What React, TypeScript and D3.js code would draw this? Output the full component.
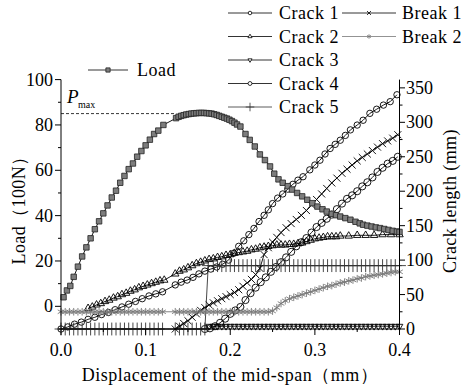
import React from "react";
import * as d3 from "d3";

// displacement (mm) vs load (100N)
const load: number[][] = [
  [0.003, 4], [0.007, 7], [0.011, 9], [0.015, 13], [0.02, 17.5], [0.025, 22], [0.03, 26], [0.035, 30],
  [0.04, 34], [0.045, 37.5], [0.05, 41], [0.055, 44.5], [0.06, 48], [0.065, 51], [0.07, 54.5], [0.075, 57.5],
  [0.08, 60.5], [0.085, 63], [0.09, 66], [0.095, 68.5], [0.1, 71], [0.105, 73.5], [0.11, 76], [0.115, 77.5],
  [0.121, 80], [0.136, 83], [0.139, 83.6], [0.142, 84], [0.145, 84.3], [0.148, 84.6], [0.151, 84.8], [0.154, 85],
  [0.157, 85.1], [0.16, 85.2], [0.163, 85.3], [0.166, 85.3], [0.169, 85.3], [0.172, 85.2], [0.175, 85.1],
  [0.178, 85], [0.181, 84.7], [0.184, 84.4], [0.187, 84], [0.19, 83.6], [0.193, 83.2], [0.196, 82.8],
  [0.199, 82.3], [0.202, 81.7], [0.205, 81], [0.208, 80.2], [0.212, 79.3], [0.218, 76], [0.223, 73.4],
  [0.229, 70.5], [0.235, 67], [0.241, 64.5], [0.247, 61.7], [0.252, 58.5], [0.257, 56], [0.262, 54.5],
  [0.268, 53], [0.273, 51.5], [0.279, 50], [0.285, 48.5], [0.291, 47], [0.297, 45.5], [0.303, 44],
  [0.309, 42.8], [0.314, 41.8], [0.32, 40.8], [0.325, 40.2], [0.33, 39.6], [0.336, 38.9], [0.342, 38.2],
  [0.348, 37.3], [0.353, 36.6], [0.357, 36], [0.362, 35.6], [0.367, 35.2], [0.372, 34.8], [0.377, 34.5],
  [0.382, 34.1], [0.387, 33.7], [0.392, 33.3], [0.397, 33], [0.4, 32.8],
];

// crack lengths (mm)
const crack1: number[][] = [
  [0, 0], [0.008, 3], [0.016, 7], [0.024, 10], [0.032, 14], [0.04, 17], [0.048, 21], [0.056, 24], [0.064, 28],
  [0.072, 32], [0.08, 36], [0.088, 40], [0.096, 44], [0.104, 48], [0.112, 51], [0.12, 54], [0.135, 64],
  [0.142, 68], [0.149, 71], [0.156, 75], [0.163, 80], [0.17, 84], [0.177, 87], [0.184, 90], [0.191, 94],
  [0.198, 100], [0.204, 110], [0.21, 120], [0.216, 128], [0.222, 137], [0.228, 146], [0.234, 156],
  [0.24, 165], [0.245, 173], [0.25, 182], [0.256, 190], [0.262, 196], [0.268, 203], [0.274, 210],
  [0.28, 216], [0.286, 221], [0.294, 231], [0.3, 238], [0.306, 245], [0.312, 254], [0.318, 262],
  [0.324, 268], [0.33, 274], [0.336, 281], [0.342, 289], [0.35, 296], [0.357, 303], [0.365, 313],
  [0.373, 319], [0.381, 325], [0.389, 330], [0.397, 340],
];

const crack2: number[][] = [
  [0.032, 30], [0.037, 32], [0.042, 35], [0.047, 37], [0.052, 40], [0.057, 42], [0.062, 45], [0.067, 47],
  [0.072, 50], [0.077, 52], [0.082, 55], [0.087, 57], [0.092, 60], [0.097, 62], [0.102, 64], [0.107, 66],
  [0.112, 68], [0.117, 70], [0.122, 71], [0.135, 80], [0.14, 84], [0.145, 86], [0.15, 89], [0.155, 92],
  [0.16, 95], [0.165, 97], [0.17, 99], [0.175, 101], [0.18, 102], [0.185, 104], [0.19, 105], [0.195, 107],
  [0.2, 108], [0.205, 110], [0.21, 111], [0.215, 112], [0.22, 113], [0.225, 115], [0.23, 116], [0.235, 118],
  [0.24, 119], [0.245, 120], [0.25, 121], [0.255, 122], [0.26, 122], [0.265, 122], [0.27, 123], [0.275, 123],
  [0.28, 124], [0.285, 125], [0.29, 127], [0.295, 129], [0.3, 131], [0.305, 132], [0.31, 133], [0.315, 134],
  [0.32, 134], [0.325, 134], [0.33, 135], [0.34, 135], [0.35, 136], [0.36, 136], [0.37, 136], [0.38, 137],
  [0.39, 137], [0.4, 137],
];

const crack3: number[][] = [
  [0.175, 4], [0.18, 4], [0.185, 4], [0.19, 4], [0.195, 4], [0.2, 4], [0.205, 4], [0.21, 4], [0.215, 4],
  [0.22, 4], [0.225, 4], [0.23, 4], [0.235, 4], [0.24, 4], [0.245, 4], [0.25, 4], [0.255, 4], [0.26, 4],
  [0.265, 4], [0.27, 4], [0.275, 4], [0.28, 4], [0.285, 4], [0.29, 4], [0.295, 4], [0.3, 4], [0.305, 4],
  [0.31, 4], [0.315, 4], [0.32, 4], [0.325, 4], [0.33, 4], [0.335, 4], [0.34, 4], [0.345, 4], [0.35, 4],
  [0.355, 4], [0.36, 4], [0.365, 4], [0.37, 4], [0.375, 4], [0.38, 4], [0.385, 4], [0.39, 4], [0.395, 4],
  [0.4, 4],
];

const crack4: number[][] = [
  [0.17, 0], [0.176, 1], [0.182, 4], [0.188, 9], [0.194, 15], [0.2, 22], [0.206, 27], [0.212, 32],
  [0.218, 42], [0.224, 52], [0.23, 60], [0.236, 68], [0.242, 75], [0.248, 83], [0.254, 90], [0.26, 97],
  [0.266, 104], [0.272, 112], [0.278, 120], [0.284, 126], [0.29, 132], [0.296, 140], [0.302, 148],
  [0.308, 154], [0.314, 160], [0.32, 166], [0.326, 174], [0.332, 182], [0.338, 189], [0.344, 194],
  [0.35, 200], [0.356, 207], [0.362, 213], [0.368, 220], [0.374, 228], [0.38, 234], [0.386, 240],
  [0.392, 244], [0.398, 250],
];

const crack5: number[][] = [
  [0, 0], [0.005, 0], [0.01, 0], [0.015, 0], [0.02, 0], [0.025, 0], [0.03, 0], [0.035, 0], [0.04, 0],
  [0.045, 0], [0.05, 0], [0.055, 0], [0.06, 0], [0.065, 0], [0.07, 0], [0.075, 0], [0.08, 0], [0.085, 0],
  [0.09, 0], [0.095, 0], [0.1, 0], [0.105, 0], [0.11, 0], [0.115, 0], [0.12, 0], [0.135, 0], [0.14, 0],
  [0.145, 0], [0.15, 0], [0.155, 0], [0.16, 0], [0.165, 0], [0.17, 0], [0.174, 92], [0.18, 92], [0.185, 92],
  [0.19, 92], [0.195, 92], [0.2, 92], [0.205, 92], [0.21, 92], [0.215, 92], [0.22, 92], [0.225, 92],
  [0.23, 92], [0.235, 92], [0.24, 92], [0.245, 92], [0.25, 92], [0.255, 92], [0.26, 92], [0.265, 92],
  [0.27, 92], [0.275, 92], [0.28, 92], [0.285, 92], [0.29, 92], [0.295, 92], [0.3, 92], [0.305, 92],
  [0.31, 92], [0.315, 92], [0.32, 92], [0.325, 92], [0.33, 92], [0.335, 92], [0.34, 92], [0.345, 92],
  [0.35, 92], [0.355, 92], [0.36, 92], [0.365, 92], [0.37, 92], [0.375, 92], [0.38, 92], [0.385, 92],
  [0.39, 92], [0.395, 92], [0.4, 92],
];

const break1: number[][] = [
  [0.135, 0], [0.14, 4], [0.145, 8], [0.15, 12], [0.155, 17], [0.16, 22], [0.165, 27], [0.17, 31],
  [0.175, 35], [0.18, 38], [0.185, 41], [0.19, 44], [0.195, 47], [0.2, 50], [0.205, 53], [0.21, 57],
  [0.215, 62], [0.22, 67], [0.225, 72], [0.23, 79], [0.235, 88], [0.24, 108], [0.245, 118], [0.25, 126],
  [0.255, 133], [0.26, 140], [0.266, 147], [0.272, 153], [0.278, 159], [0.284, 165], [0.29, 172],
  [0.296, 180], [0.302, 188], [0.308, 196], [0.314, 204], [0.32, 212], [0.326, 219], [0.332, 226],
  [0.338, 232], [0.344, 238], [0.35, 244], [0.356, 249], [0.362, 254], [0.368, 259], [0.374, 264],
  [0.38, 269], [0.386, 273], [0.392, 277], [0.398, 282],
];

const break2: number[][] = [
  [0, 25], [0.005, 25], [0.01, 25], [0.015, 25], [0.02, 25], [0.025, 25], [0.03, 25], [0.035, 25],
  [0.04, 25], [0.045, 25], [0.05, 25], [0.055, 25], [0.06, 25], [0.065, 25], [0.07, 25], [0.075, 25],
  [0.08, 25], [0.085, 25], [0.09, 25], [0.095, 25], [0.1, 25], [0.105, 25], [0.11, 25], [0.115, 25],
  [0.12, 25], [0.135, 25], [0.14, 25], [0.145, 25], [0.15, 25], [0.155, 25], [0.16, 25], [0.165, 25],
  [0.17, 25], [0.175, 25], [0.18, 25], [0.185, 25], [0.19, 25], [0.195, 25], [0.2, 25], [0.205, 25],
  [0.21, 25], [0.215, 25], [0.22, 25], [0.225, 25], [0.23, 25], [0.235, 25], [0.24, 25], [0.245, 25],
  [0.25, 26], [0.255, 31], [0.26, 37], [0.265, 41], [0.27, 44], [0.275, 46], [0.28, 48], [0.285, 50],
  [0.29, 52], [0.295, 54], [0.3, 56], [0.305, 58], [0.31, 60], [0.315, 62], [0.32, 63], [0.325, 65],
  [0.33, 67], [0.335, 68], [0.34, 70], [0.345, 71], [0.35, 73], [0.355, 74], [0.36, 76], [0.365, 77],
  [0.37, 78], [0.375, 79], [0.38, 80], [0.385, 81], [0.39, 82], [0.395, 83], [0.4, 83],
];

const loadTicks = [0, 20, 40, 60, 80, 100];
const loadMinor = [-10, 10, 30, 50, 70, 90];
const crackTicks = [0, 50, 100, 150, 200, 250, 300, 350];
const crackMinor = [25, 75, 125, 175, 225, 275, 325];
const dispTicks = [0, 0.1, 0.2, 0.3, 0.4];
const dispMinor = [0.05, 0.15, 0.25, 0.35];
const pMax = 85;

const font = "'Liberation Serif', 'Times New Roman', serif";

const x = d3.scaleLinear([0, 0.4], [61, 399.5]);
const yL = d3.scaleLinear([-10, 100], [329, 79.6]);
const yR = d3.scaleLinear([0, 362], [329, 79.6]);

const series = [
  { name: "Crack 1", data: crack1, type: d3.symbolCircle, size: 32, legendSize: 10, color: "#000", rot: 0 },
  { name: "Crack 2", data: crack2, type: d3.symbolTriangle2, size: 40, legendSize: 12, color: "#000", rot: 0 },
  { name: "Crack 3", data: crack3, type: d3.symbolTriangle2, size: 32, legendSize: 12, color: "#000", rot: 180 },
  { name: "Crack 4", data: crack4, type: d3.symbolCircle, size: 40, legendSize: 12, color: "#000", rot: 0 },
  { name: "Crack 5", data: crack5, type: d3.symbolPlus, size: 56, legendSize: 26, color: "#333", rot: 0 },
  { name: "Break 1", data: break1, type: d3.symbolTimes, size: 34, legendSize: 12, color: "#000", rot: 0 },
  { name: "Break 2", data: break2, type: d3.symbolAsterisk, size: 40, legendSize: 14, color: "#777", rot: 0 },
];

// legend columns: line start, text start
const legendCols = [
  { x1: 228, x2: 272, tx: 279 },
  { x1: 342, x2: 396, tx: 402 },
];

const App: React.FC = () => {
  const crackLine = d3.line<number[]>().x((d) => x(d[0])).y((d) => yR(d[1]));
  const loadLine = d3.line<number[]>().x((d) => x(d[0])).y((d) => yL(d[1]));
  const sq = d3.symbol().type(d3.symbolSquare).size(30)();

  return (
    <svg width={461} height={387} style={{ position: "absolute", top: 0, left: 0, background: "#fff" }} fontFamily={font}>
      {/* crack series on the right axis */}
      {series.map((s) => (
        <g key={s.name}>
          <path d={crackLine(s.data) || ""} fill="none" stroke={s.color} strokeWidth={0.9} />
          {s.data.map((d, j) => (
            <path
              key={j}
              d={d3.symbol().type(s.type).size(s.size)() || ""}
              transform={`translate(${x(d[0])},${yR(d[1])}) rotate(${s.rot})`}
              fill="none"
              stroke={s.color}
              strokeWidth={0.9}
            />
          ))}
        </g>
      ))}
      {/* load */}
      <path d={loadLine(load) || ""} fill="none" stroke="#000" strokeWidth={0.9} />
      {load.map((d, i) => (
        <path key={`ld${i}`} d={sq || ""} transform={`translate(${x(d[0])},${yL(d[1])})`} fill="#7d7d7d" stroke="#222" strokeWidth={0.8} />
      ))}
      {/* Pmax */}
      <line x1={x(0)} x2={x(0.136)} y1={yL(pMax)} y2={yL(pMax)} stroke="#000" strokeWidth={0.8} strokeDasharray="3,2" />
      <text x={67} y={103} fontSize={19} fontStyle="italic">P</text>
      <text x={78} y={108} fontSize={10}>max</text>
      {/* axes */}
      <g stroke="#000" strokeWidth={1}>
        <line x1={61} x2={61} y1={yL(-10)} y2={yL(100)} />
        <line x1={399.5} x2={399.5} y1={yR(0)} y2={yR(362)} />
        <line x1={61} x2={399.5} y1={329} y2={329} />
        {loadTicks.map((t) => <line key={`lt${t}`} x1={55} x2={61} y1={yL(t)} y2={yL(t)} />)}
        {loadMinor.map((t) => <line key={`lm${t}`} x1={58} x2={61} y1={yL(t)} y2={yL(t)} />)}
        {crackTicks.map((t) => <line key={`ct${t}`} x1={399.5} x2={405} y1={yR(t)} y2={yR(t)} />)}
        {crackMinor.map((t) => <line key={`cm${t}`} x1={399.5} x2={402.5} y1={yR(t)} y2={yR(t)} />)}
        {dispTicks.map((t) => <line key={`dt${t}`} x1={x(t)} x2={x(t)} y1={329} y2={335} />)}
        {dispMinor.map((t) => <line key={`dm${t}`} x1={x(t)} x2={x(t)} y1={329} y2={332} />)}
      </g>
      <g fontSize={18}>
        {loadTicks.map((t) => (
          <text key={`ll${t}`} x={53} y={yL(t)} textAnchor="end" dominantBaseline="central">{t}</text>
        ))}
        {crackTicks.map((t) => (
          <text key={`cl${t}`} x={406} y={yR(t)} dominantBaseline="central">{t}</text>
        ))}
        {dispTicks.map((t) => (
          <text key={`dl${t}`} x={x(t)} y={356} textAnchor="middle">{d3.format(".1f")(t)}</text>
        ))}
        <text x={230} y={381} textAnchor="middle" letterSpacing={0.5}>Displacement of the mid-span（mm）</text>
        <text transform="translate(19,206) rotate(-90)" textAnchor="middle" dominantBaseline="central" letterSpacing={0.4}>Load（100N）</text>
        <text transform="translate(450,201) rotate(-90)" textAnchor="middle" dominantBaseline="central" letterSpacing={0.4}>Crack length (mm)</text>
      </g>
      {/* legends */}
      <g fontSize={18} letterSpacing={0.5}>
        <line x1={88} x2={128} y1={70} y2={70} stroke="#000" strokeWidth={0.8} />
        <path d={d3.symbol().type(d3.symbolSquare).size(18)() || ""} transform="translate(108,70)" fill="#7d7d7d" stroke="#222" strokeWidth={0.8} />
        <text x={137} y={70} dominantBaseline="central">Load</text>
        {series.map((s, i) => {
          const c = legendCols[i < 5 ? 0 : 1];
          const ly = 13 + (i < 5 ? i : i - 5) * 23.5;
          return (
            <g key={`lg${i}`}>
              <line x1={c.x1} x2={c.x2} y1={ly} y2={ly} stroke={s.color} strokeWidth={0.8} />
              <path
                d={d3.symbol().type(s.type).size(s.legendSize)() || ""}
                transform={`translate(${(c.x1 + c.x2) / 2},${ly}) rotate(${s.rot})`}
                fill="#fff"
                stroke={s.color}
                strokeWidth={0.8}
              />
              <text x={c.tx} y={ly} dominantBaseline="central">{s.name}</text>
            </g>
          );
        })}
      </g>
    </svg>
  );
};

export default App;
